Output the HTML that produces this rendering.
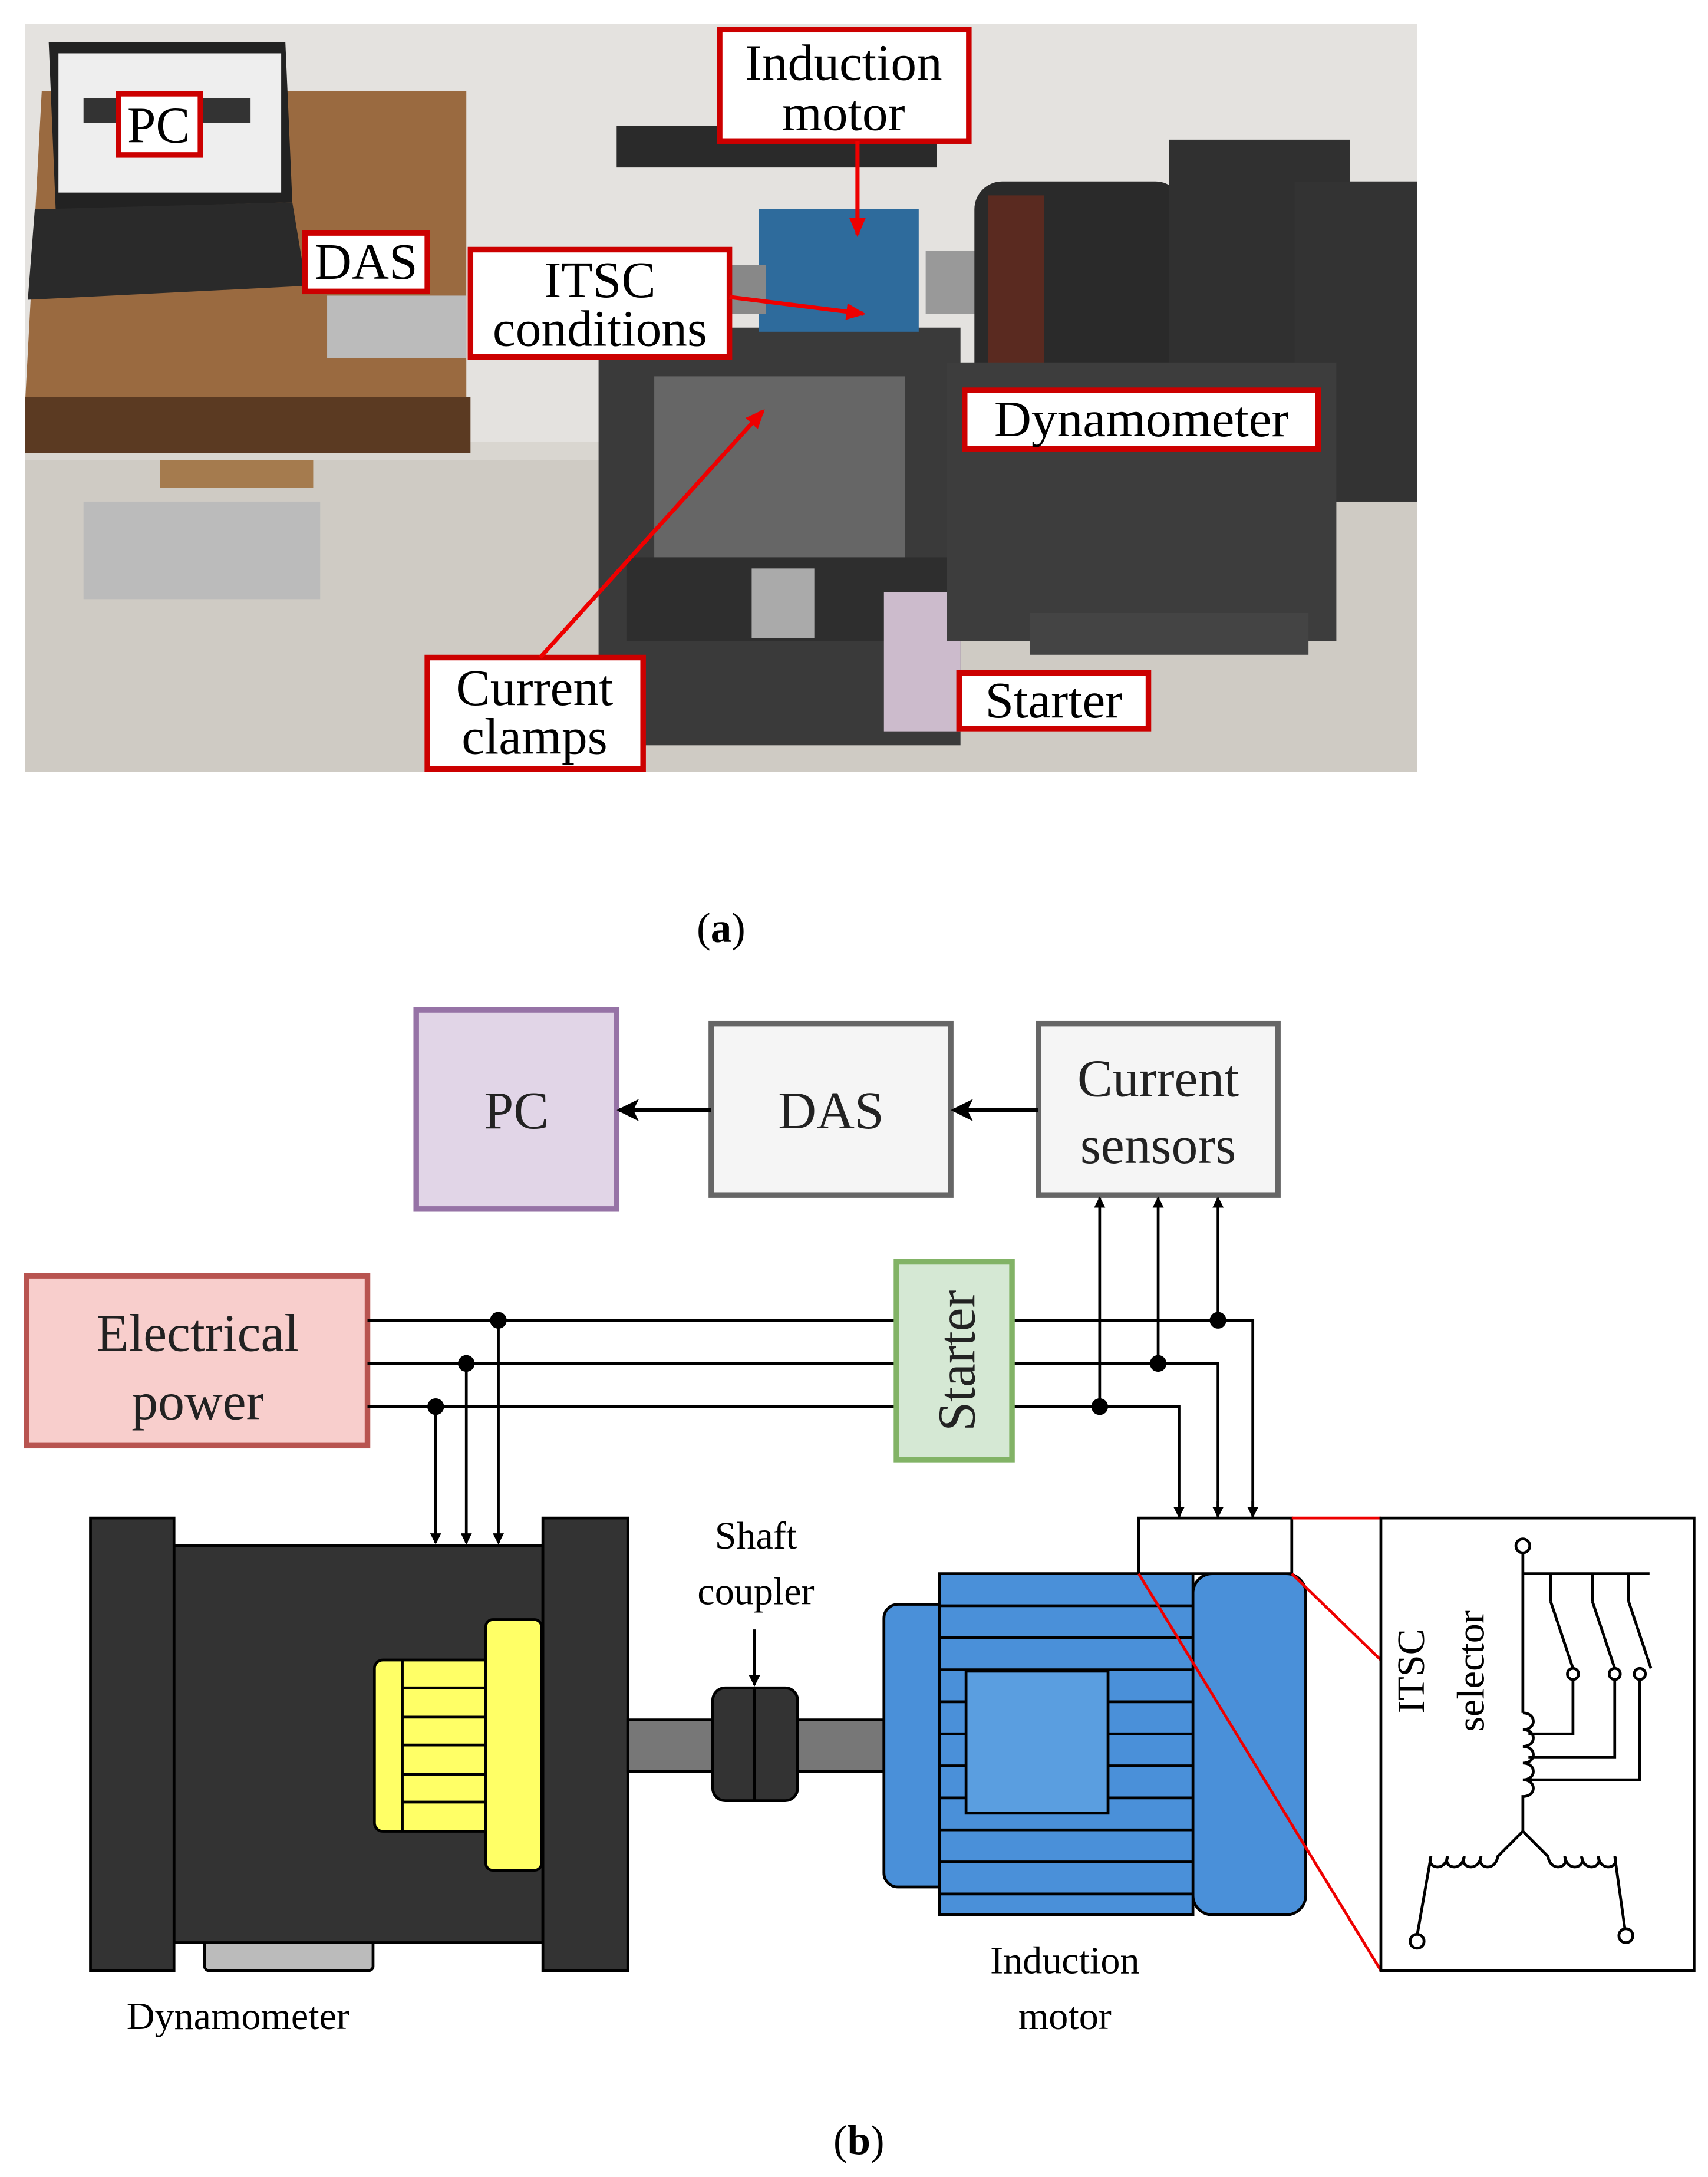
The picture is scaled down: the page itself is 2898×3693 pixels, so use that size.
<!DOCTYPE html>
<html><head><meta charset="utf-8"><style>html,body{margin:0;padding:0;background:#fff}svg{display:block}</style></head>
<body>
<svg width="2898" height="3693" viewBox="0 0 1227 1563" xmlns="http://www.w3.org/2000/svg" font-family="Liberation Serif, serif">
<defs>
<marker id="ah" markerWidth="8" markerHeight="8" refX="7" refY="4" orient="auto" markerUnits="userSpaceOnUse"><path d="M0,0 L8,4 L0,8 z" fill="#000"/></marker>
<marker id="ahb" markerWidth="16" markerHeight="16" refX="14" refY="8" orient="auto" markerUnits="userSpaceOnUse"><path d="M0,0 L16,8 L0,16 L4,8 z" fill="#000"/></marker>
<marker id="ahr" markerWidth="14" markerHeight="12" refX="12" refY="6" orient="auto" markerUnits="userSpaceOnUse"><path d="M0,0 L14,6 L0,12 z" fill="#e00"/></marker>
</defs>
<!-- photo -->
<rect x="18" y="17" width="1000" height="537" fill="#d9d6d0"/>
<rect x="18" y="17" width="1000" height="300" fill="#e4e2df"/>
<rect x="18" y="330" width="1000" height="224" fill="#cfcbc4"/>
<polygon points="30,65 335,65 335,290 18,290" fill="#9a6a40"/>
<rect x="18" y="285" width="320" height="40" fill="#5b3a22"/>
<rect x="60" y="360" width="170" height="70" fill="#bbb"/>
<rect x="115" y="330" width="110" height="20" fill="#a57b4e"/>
<polygon points="35,30 205,30 210,145 40,150" fill="#222"/>
<rect x="42" y="38" width="160" height="100" fill="#eee"/>
<rect x="60" y="70" width="120" height="18" fill="#333"/>
<polygon points="25,150 210,145 220,205 20,215" fill="#2a2a2a"/>
<rect x="235" y="212" width="100" height="45" fill="#bbb"/>
<rect x="443" y="90" width="230" height="30" fill="#2a2a2a"/>
<rect x="430" y="235" width="260" height="300" fill="#3a3a3a"/>
<rect x="470" y="270" width="180" height="130" fill="#666"/>
<rect x="450" y="400" width="230" height="60" fill="#2e2e2e"/>
<rect x="540" y="408" width="45" height="50" fill="#aaa"/>
<rect x="635" y="425" width="55" height="100" fill="#cbc"/>
<rect x="545" y="150" width="115" height="88" fill="#2e6b9c"/>
<rect x="520" y="190" width="30" height="35" fill="#888"/>
<rect x="665" y="180" width="40" height="45" fill="#999"/>
<rect x="700" y="130" width="150" height="150" fill="#2a2a2a" rx="20"/>
<rect x="710" y="140" width="40" height="140" fill="#5a2a20"/>
<rect x="840" y="100" width="130" height="200" fill="#303030"/>
<rect x="930" y="130" width="88" height="230" fill="#333"/>
<rect x="680" y="260" width="280" height="200" fill="#3d3d3d"/>
<rect x="740" y="440" width="200" height="30" fill="#444"/>
<g font-size="37" fill="#000" text-anchor="middle" stroke-width="4">
<rect x="85" y="67" width="59" height="44" fill="#fff" stroke="#c00"/><text x="114" y="102">PC</text>
<rect x="219" y="167" width="88" height="42" fill="#fff" stroke="#c00"/><text x="263" y="200">DAS</text>
<rect x="517" y="21" width="179" height="80" fill="#fff" stroke="#c00"/><text x="606" y="57">Induction</text><text x="606" y="93">motor</text>
<rect x="338" y="179" width="186" height="77" fill="#fff" stroke="#c00"/><text x="431" y="213">ITSC</text><text x="431" y="248">conditions</text>
<rect x="693" y="280" width="254" height="42" fill="#fff" stroke="#c00"/><text x="820" y="313">Dynamometer</text>
<rect x="307" y="472" width="155" height="80" fill="#fff" stroke="#c00"/><text x="384" y="506">Current</text><text x="384" y="541">clamps</text>
<rect x="689" y="483" width="136" height="40" fill="#fff" stroke="#c00"/><text x="757" y="515">Starter</text>
</g>
<g stroke="#e00" stroke-width="3" fill="none">
<line x1="616" y1="101" x2="616" y2="168" marker-end="url(#ahr)"/>
<line x1="524" y1="213" x2="620" y2="225" marker-end="url(#ahr)"/>
<line x1="388" y1="472" x2="548" y2="295" marker-end="url(#ahr)"/>
</g>
<text x="518" y="676" font-size="30" text-anchor="middle">(<tspan font-weight="bold">a</tspan>)</text>
<!-- diagram b -->
<g stroke-width="4">
<rect x="299" y="725" width="144" height="143" fill="#e1d5e7" stroke="#9673a6"/>
<rect x="511" y="735" width="172" height="123" fill="#f5f5f5" stroke="#666"/>
<rect x="746" y="735" width="172" height="123" fill="#f5f5f5" stroke="#666"/>
<rect x="19" y="916" width="245" height="122" fill="#f8cecc" stroke="#b85450"/>
</g>
<g font-size="38" fill="#222" text-anchor="middle">
<text x="371" y="810">PC</text>
<text x="597" y="810">DAS</text>
<text x="832" y="787">Current</text><text x="832" y="835">sensors</text>
<text x="142" y="970">Electrical</text><text x="142" y="1019">power</text>
</g>
<g stroke="#000" stroke-width="3" fill="none">
<line x1="511" y1="797" x2="445" y2="797" marker-end="url(#ahb)"/>
<line x1="746" y1="797" x2="685" y2="797" marker-end="url(#ahb)"/>
</g>
<g stroke="#000" stroke-width="2" fill="none">
<polyline points="264,948 900,948 900,1088"/>
<polyline points="264,979 875,979 875,1088"/>
<polyline points="264,1010 847,1010 847,1088"/>
<line x1="358" y1="948" x2="358" y2="1108" marker-end="url(#ah)"/>
<line x1="335" y1="979" x2="335" y2="1108" marker-end="url(#ah)"/>
<line x1="313" y1="1010" x2="313" y2="1108" marker-end="url(#ah)"/>
<line x1="875" y1="948" x2="875" y2="860" marker-end="url(#ah)"/>
<line x1="832" y1="979" x2="832" y2="860" marker-end="url(#ah)"/>
<line x1="790" y1="1010" x2="790" y2="860" marker-end="url(#ah)"/>
<line x1="900" y1="1078" x2="900" y2="1089" marker-end="url(#ah)"/>
<line x1="875" y1="1078" x2="875" y2="1089" marker-end="url(#ah)"/>
<line x1="847" y1="1078" x2="847" y2="1089" marker-end="url(#ah)"/>
</g>
<g fill="#000"><circle cx="358" cy="948" r="6"/><circle cx="335" cy="979" r="6"/><circle cx="313" cy="1010" r="6"/><circle cx="875" cy="948" r="6"/><circle cx="832" cy="979" r="6"/><circle cx="790" cy="1010" r="6"/></g>
<rect x="644" y="906" width="83" height="142" fill="#d5e8d4" stroke="#82b366" stroke-width="4"/>
<text transform="translate(700,977) rotate(-90)" font-size="38" text-anchor="middle" fill="#222">Starter</text>
<!-- dynamometer -->
<g stroke="#000" stroke-width="2">
<rect x="147" y="1390" width="121" height="25" fill="#bbb" rx="3"/>
<rect x="125" y="1110" width="265" height="285" fill="#333"/>
<rect x="65" y="1090" width="60" height="325" fill="#333"/>
<rect x="390" y="1090" width="61" height="325" fill="#333"/>
<rect x="269" y="1192" width="85" height="123" fill="#ffff66" rx="6"/>
<rect x="349" y="1163" width="40" height="180" fill="#ffff66" rx="5"/>
<line x1="289" y1="1192" x2="289" y2="1315"/>
<line x1="289" y1="1212" x2="349" y2="1212"/><line x1="289" y1="1233" x2="349" y2="1233"/><line x1="289" y1="1253" x2="349" y2="1253"/><line x1="289" y1="1274" x2="349" y2="1274"/><line x1="289" y1="1294" x2="349" y2="1294"/>
<rect x="451" y="1235" width="184" height="37" fill="#777"/>
<rect x="512" y="1212" width="61" height="81" fill="#333" rx="9"/>
<line x1="542" y1="1212" x2="542" y2="1293"/>
<rect x="635" y="1152" width="50" height="203" fill="#4a90d9" rx="10"/>
<rect x="857" y="1130" width="81" height="245" fill="#4a90d9" rx="14"/>
<rect x="675" y="1130" width="182" height="245" fill="#4a90d9"/>
<line x1="675" y1="1153" x2="857" y2="1153"/><line x1="675" y1="1176" x2="857" y2="1176"/><line x1="675" y1="1199" x2="857" y2="1199"/><line x1="675" y1="1222" x2="857" y2="1222"/><line x1="675" y1="1245" x2="857" y2="1245"/><line x1="675" y1="1268" x2="857" y2="1268"/><line x1="675" y1="1291" x2="857" y2="1291"/><line x1="675" y1="1314" x2="857" y2="1314"/><line x1="675" y1="1337" x2="857" y2="1337"/><line x1="675" y1="1360" x2="857" y2="1360"/>
<rect x="694" y="1200" width="102" height="102" fill="#5a9ee0"/>
<rect x="818" y="1090" width="110" height="40" fill="#fff"/>
</g>
<line x1="542" y1="1170" x2="542" y2="1210" stroke="#000" stroke-width="2" marker-end="url(#ah)"/>
<g stroke="#e00" stroke-width="2"><line x1="928" y1="1090" x2="992" y2="1090"/><line x1="818" y1="1130" x2="992" y2="1415"/><line x1="928" y1="1130" x2="992" y2="1192"/></g>
<rect x="992" y="1090" width="225" height="325" fill="#fff" stroke="#000" stroke-width="2"/>
<g stroke="#000" stroke-width="2" fill="none">
<circle cx="1094" cy="1110" r="5" fill="#fff"/>
<polyline points="1094,1115 1094,1230"/>
<line x1="1094" y1="1130" x2="1185" y2="1130"/>
<line x1="1114" y1="1130" x2="1114" y2="1150"/><line x1="1114" y1="1150" x2="1130" y2="1198"/>
<line x1="1144" y1="1130" x2="1144" y2="1150"/><line x1="1144" y1="1150" x2="1160" y2="1198"/>
<line x1="1170" y1="1130" x2="1170" y2="1150"/><line x1="1170" y1="1150" x2="1186" y2="1198"/>
<circle cx="1130" cy="1202" r="4" fill="#fff"/><circle cx="1160" cy="1202" r="4" fill="#fff"/><circle cx="1178" cy="1202" r="4" fill="#fff"/>
<path d="M1094,1230 c10,0 10,12 0,12 c10,0 10,12 0,12 c10,0 10,12 0,12 c10,0 10,12 0,12 c10,0 10,12 0,12 L1094,1315"/>
<polyline points="1130,1206 1130,1245 1098,1245"/><polyline points="1160,1206 1160,1262 1098,1262"/><polyline points="1178,1206 1178,1278 1098,1278"/>
<path d="M1094,1315 l-18,18 c-2,12 -16,8 -12,0 c-2,12 -16,8 -12,0 c-2,12 -16,8 -12,0 c-2,12 -16,8 -12,0 L1018,1390"/>
<path d="M1094,1315 l18,18 c2,12 16,8 12,0 c2,12 16,8 12,0 c2,12 16,8 12,0 c2,12 16,8 12,0 L1168,1390"/>
<circle cx="1018" cy="1394" r="5" fill="#fff"/><circle cx="1168" cy="1390" r="5" fill="#fff"/>
</g>
<g font-size="28" fill="#000" text-anchor="middle">
<text transform="translate(1023,1200) rotate(-90)">ITSC</text>
<text transform="translate(1066,1200) rotate(-90)">selector</text>
<text x="543" y="1112">Shaft</text><text x="543" y="1152">coupler</text>
<text x="765" y="1417">Induction</text><text x="765" y="1457">motor</text>
<text x="171" y="1457">Dynamometer</text>
</g>
<text x="617" y="1547" font-size="30" text-anchor="middle">(<tspan font-weight="bold">b</tspan>)</text>
</svg>
</body></html>
